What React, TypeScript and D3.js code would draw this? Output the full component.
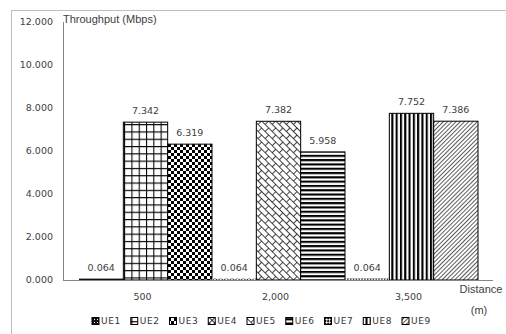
import { useEffect, useRef } from 'react'
import * as d3 from 'd3'

// distances (x categories)
const categories = ['500', '2,000', '3,500']
// UE names, three per distance
const ueNames = ['UE1', 'UE2', 'UE3', 'UE4', 'UE5', 'UE6', 'UE7', 'UE8', 'UE9']
// throughput in Mbps, same order as ueNames
const throughput = [0.064, 7.342, 6.319, 0.064, 7.382, 5.958, 0.064, 7.752, 7.386]
const yTicks = [0, 2, 4, 6, 8, 10, 12]

const W = 506
const H = 334
const numFont = '"DejaVu Sans", Verdana, sans-serif'
const txtFont = '"Liberation Sans", Arial, sans-serif'

export default function App() {
  const svgRef = useRef<SVGSVGElement>(null)

  useEffect(() => {
    if (!svgRef.current) return
    const svg = d3.select(svgRef.current)
    svg.selectAll('*').remove()

    const plot = { left: 63, right: 493, top: 22, bottom: 280 }

    // fill patterns, one per UE
    const defs = svg.append('defs')
    const pat = (id: string, w: number, h: number, tr?: string) => {
      const p = defs.append('pattern')
        .attr('id', id)
        .attr('patternUnits', 'userSpaceOnUse')
        .attr('width', w)
        .attr('height', h)
      if (tr) p.attr('patternTransform', tr)
      p.append('rect').attr('width', w).attr('height', h).attr('fill', '#fff')
      return p
    }
    // UE1: dark with white dots
    const p1 = pat('p1', 3, 3)
    p1.select('rect').attr('fill', '#111')
    p1.append('rect').attr('x', 1).attr('y', 1).attr('width', 1).attr('height', 1).attr('fill', '#fff')
    // UE2: large grid
    const p2 = pat('p2', 7.3, 7.3)
    p2.append('path').attr('d', 'M0.5,0V7.3M0,0.5H7.3').attr('stroke', '#000').attr('stroke-width', 1.1)
    // UE3: checkerboard
    const p3 = pat('p3', 6, 6)
    p3.append('rect').attr('width', 3).attr('height', 3).attr('fill', '#000')
    p3.append('rect').attr('x', 3).attr('y', 3).attr('width', 3).attr('height', 3).attr('fill', '#000')
    // UE4: small diagonal cross
    const p4 = pat('p4', 4, 4, 'rotate(45)')
    p4.append('path').attr('d', 'M0,0.5H4M0.5,0V4').attr('stroke', '#000').attr('stroke-width', 0.8)
    // UE5: diagonal brick
    const p5 = pat('p5', 10, 10, 'rotate(45)')
    p5.append('path').attr('d', 'M0,0.5H10M0,5.5H10M0.5,0.5V5.5M5.5,5.5V10.5')
      .attr('stroke', '#111').attr('stroke-width', 0.8).attr('fill', 'none')
    // UE6: horizontal stripes
    const p6 = pat('p6', 4.3, 4.3)
    p6.append('rect').attr('width', 4.3).attr('height', 2.1).attr('fill', '#000')
    // UE7: wide checker
    const p7 = pat('p7', 4, 4, 'rotate(45)')
    p7.append('rect').attr('width', 2).attr('height', 2).attr('fill', '#000')
    p7.append('rect').attr('x', 2).attr('y', 2).attr('width', 2).attr('height', 2).attr('fill', '#000')
    // UE8: vertical stripes
    const p8 = pat('p8', 4.3, 4.3)
    p8.append('rect').attr('width', 2.1).attr('height', 4.3).attr('fill', '#000')
    // UE9: thin up-right diagonal
    const p9 = pat('p9', 3, 3, 'rotate(45)')
    p9.append('path').attr('d', 'M0.5,0V3').attr('stroke', '#333').attr('stroke-width', 0.8)

    // outer chart border
    svg.append('rect')
      .attr('x', 11.5).attr('y', 10.5)
      .attr('width', 500).attr('height', 340)
      .attr('fill', 'none').attr('stroke', '#bfbfbf')

    const y = d3.scaleLinear().domain([0, 12]).range([plot.bottom, plot.top])
    const x0 = d3.scaleBand<string>().domain(categories).range([79, 478]).padding(0)
    const x1 = d3.scaleBand<number>().domain([0, 1, 2]).range([0, x0.bandwidth()]).padding(0)

    // y axis
    svg.append('line')
      .attr('x1', plot.left + 0.5).attr('x2', plot.left + 0.5)
      .attr('y1', y(12)).attr('y2', plot.bottom)
      .attr('stroke', '#868686')
    svg.append('g').selectAll('text')
      .data(yTicks)
      .enter().append('text')
      .attr('x', 53)
      .attr('y', d => y(d))
      .attr('text-anchor', 'end')
      .attr('dominant-baseline', 'middle')
      .style('font-family', numFont)
      .style('font-size', '9.5px')
      .style('fill', '#404040')
      .text(d => d3.format('.3f')(d))

    // bars
    const bars = svg.append('g')
    throughput.forEach((v, i) => {
      const cat = categories[Math.floor(i / 3)]
      const bx = (x0(cat) || 0) + (x1(i % 3) || 0)
      const h = y(0) - y(v)
      bars.append('rect')
        .attr('x', bx)
        .attr('y', y(v))
        .attr('width', x1.bandwidth())
        .attr('height', h)
        .attr('fill', `url(#p${i + 1})`)
        .attr('stroke', h < 3 ? 'none' : '#000')
        .attr('stroke-width', 1)
      bars.append('text')
        .attr('x', bx + x1.bandwidth() / 2)
        .attr('y', y(v) - 8)
        .attr('text-anchor', 'middle')
        .style('font-family', numFont)
        .style('font-size', '9.5px')
        .style('fill', '#404040')
        .text(d3.format('.3f')(v))
    })

    // x axis
    svg.append('line')
      .attr('x1', plot.left).attr('x2', plot.right)
      .attr('y1', plot.bottom + 0.5).attr('y2', plot.bottom + 0.5)
      .attr('stroke', '#868686')
    svg.append('g').selectAll('text')
      .data(categories)
      .enter().append('text')
      .attr('x', d => (x0(d) || 0) + x0.bandwidth() / 2 - 3)
      .attr('y', 297)
      .attr('text-anchor', 'middle')
      .attr('dominant-baseline', 'middle')
      .style('font-family', numFont)
      .style('font-size', '9.5px')
      .style('fill', '#404040')
      .text(d => d)

    // axis titles
    svg.append('text')
      .attr('x', 63).attr('y', 20)
      .attr('dominant-baseline', 'middle')
      .style('font-family', txtFont).style('font-size', '11px').style('fill', '#404040')
      .text('Throughput (Mbps)')
    svg.append('text')
      .attr('x', 481).attr('y', 290)
      .attr('text-anchor', 'middle').attr('dominant-baseline', 'middle')
      .style('font-family', txtFont).style('font-size', '11px').style('fill', '#404040')
      .text('Distance')
    svg.append('text')
      .attr('x', 479).attr('y', 311)
      .attr('text-anchor', 'middle').attr('dominant-baseline', 'middle')
      .style('font-family', txtFont).style('font-size', '11px').style('fill', '#404040')
      .text('(m)')

    // legend
    const lx = d3.scaleLinear().domain([0, ueNames.length - 1]).range([92, 402])
    const lg = svg.append('g')
    ueNames.forEach((n, i) => {
      lg.append('rect')
        .attr('x', lx(i)).attr('y', 317.5)
        .attr('width', 7).attr('height', 7)
        .attr('fill', `url(#p${i + 1})`)
        .attr('stroke', '#000').attr('stroke-width', 1)
      lg.append('text')
        .attr('x', lx(i) + 9).attr('y', 321.5)
        .attr('dominant-baseline', 'middle')
        .style('font-family', numFont).style('font-size', '9px')
        .style('letter-spacing', '0.6px')
        .style('fill', '#333')
        .text(n)
    })
  }, [])

  return (
    <div style={{ position: 'absolute', left: 0, top: 0, background: '#fff' }}>
      <svg ref={svgRef} width={W} height={H} style={{ display: 'block' }} />
    </div>
  )
}
